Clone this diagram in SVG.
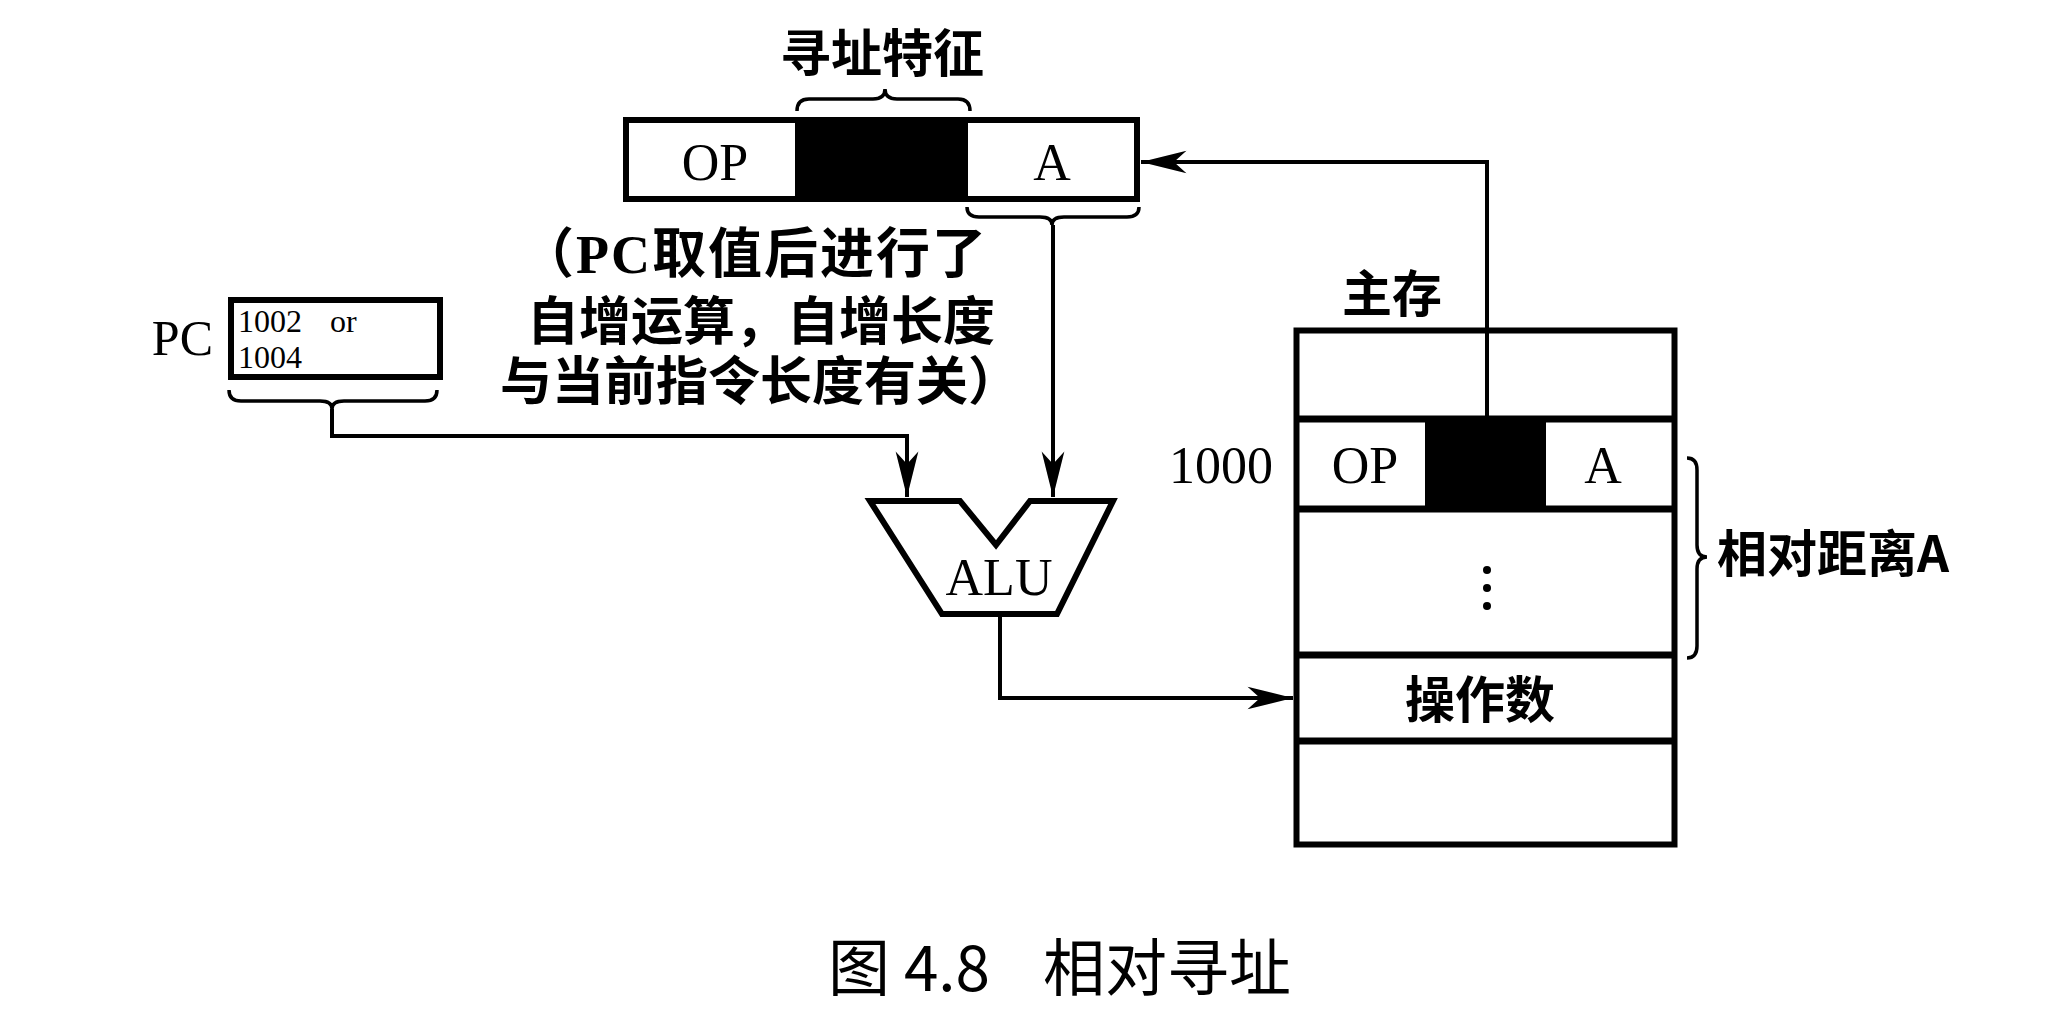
<svg xmlns="http://www.w3.org/2000/svg" width="2068" height="1028" viewBox="0 0 2068 1028">
<style>
.box{fill:#fff;stroke:#000;stroke-width:6}
.sep{stroke:#000;stroke-width:7}
.ln{fill:none;stroke:#000;stroke-width:4}
.br{fill:none;stroke:#000;stroke-width:3.5}
.ser{font-family:"Liberation Serif","Times New Roman",serif;fill:#000}
.cjk{font-family:"Noto Sans CJK SC","Noto Sans",sans-serif;fill:#000;font-weight:bold}
.mix{font-family:"Liberation Serif","Noto Sans CJK SC",serif;fill:#000;font-weight:bold}
.cap{font-family:"Noto Sans CJK SC","Noto Sans",sans-serif;fill:#000;font-weight:normal}
</style>
<defs>
<marker id="ah" markerUnits="userSpaceOnUse" markerWidth="50" markerHeight="30" viewBox="-42 -12 44 24" refX="0" refY="0" orient="auto">
<path d="M0,0 L-40,-10 L-29,0 L-40,10 Z" fill="#000"/>
</marker>
</defs>
<rect width="2068" height="1028" fill="#fff"/>

<g id="label-top">
<text class="cjk" x="882" y="72" font-size="51" text-anchor="middle">寻址特征</text>
<path class="br" d="M797,111 Q797,99 809,99 L873,99 Q885,99 885,89 Q885,99 897,99 L958,99 Q970,99 970,111"/>
</g>

<g id="instruction">
<rect class="box" x="626" y="120" width="511" height="79"/>
<rect x="795" y="120" width="173" height="79" fill="#000"/>
<text class="ser" x="715" y="180" font-size="52" text-anchor="middle">OP</text>
<text class="ser" x="1052" y="180" font-size="52" text-anchor="middle">A</text>
<path class="br" d="M967,207 Q967,217 979,217 L1040,217 Q1052,217 1052,225 Q1052,217 1064,217 L1127,217 Q1139,217 1139,207"/>
</g>

<g id="note">
<text class="mix" x="520" y="273" font-size="54" letter-spacing="2">（PC取值后进行了</text>
<text class="cjk" x="761" y="340" font-size="52" text-anchor="middle">自增运算，自增长度</text>
<text class="cjk" x="500" y="400" font-size="52">与当前指令长度有关）</text>
</g>

<g id="pc">
<text class="ser" x="213" y="355" font-size="50" text-anchor="end">PC</text>
<rect class="box" x="231" y="300" width="209" height="77"/>
<text class="ser" x="238" y="332" font-size="32">1002</text>
<text class="ser" x="330" y="332" font-size="32">or</text>
<text class="ser" x="238" y="368" font-size="32">1004</text>
<path class="br" d="M229,390 Q229,401 241,401 L320,401 Q332,401 332,409 Q332,401 344,401 L425,401 Q437,401 437,390"/>
</g>

<g id="alu">
<polygon points="870,501 960,501 996,545 1030,501 1113,501 1057,614 942,614" fill="#fff" stroke="#000" stroke-width="6"/>
<text class="ser" x="999" y="595" font-size="52" text-anchor="middle">ALU</text>
</g>

<g id="memory">
<text class="cjk" x="1392" y="312" font-size="50" text-anchor="middle">主存</text>
<rect class="box" x="1296.5" y="330.5" width="378" height="514" stroke-width="7"/>
<rect x="1425" y="419" width="121" height="90" fill="#000"/>
<line class="sep" x1="1296" y1="419" x2="1675" y2="419"/>
<line class="sep" x1="1296" y1="509" x2="1675" y2="509"/>
<line class="sep" x1="1296" y1="655" x2="1675" y2="655"/>
<line class="sep" x1="1296" y1="741" x2="1675" y2="741"/>
<text class="ser" x="1273" y="483" font-size="52" text-anchor="end">1000</text>
<text class="ser" x="1365" y="483" font-size="52" text-anchor="middle">OP</text>
<text class="ser" x="1603" y="483" font-size="52" text-anchor="middle">A</text>
<circle cx="1487" cy="570" r="4"/>
<circle cx="1487" cy="588" r="4"/>
<circle cx="1487" cy="606" r="4"/>
<text class="cjk" x="1480" y="718" font-size="50" text-anchor="middle">操作数</text>
<path class="br" d="M1687,458 Q1697,458 1697,470 L1697,545 Q1697,557 1707,557 Q1697,557 1697,569 L1697,646 Q1697,658 1687,658"/>
<text class="cjk" x="1717" y="572" font-size="50">相对距离A</text>
</g>

<g id="connectors">
<path class="ln" d="M332,409 L332,436 L907,436 L907,497" marker-end="url(#ah)"/>
<path class="ln" d="M1053,225 L1053,497" marker-end="url(#ah)"/>
<path class="ln" d="M1000,617 L1000,698 L1293,698" marker-end="url(#ah)"/>
<path class="ln" d="M1487,419 L1487,162 L1141,162" marker-end="url(#ah)"/>
</g>

<g id="caption">
<text class="cap" x="828" y="991" font-size="62">图 4.8</text>
<text class="cap" x="1043" y="991" font-size="62">相对寻址</text>
</g>
</svg>
